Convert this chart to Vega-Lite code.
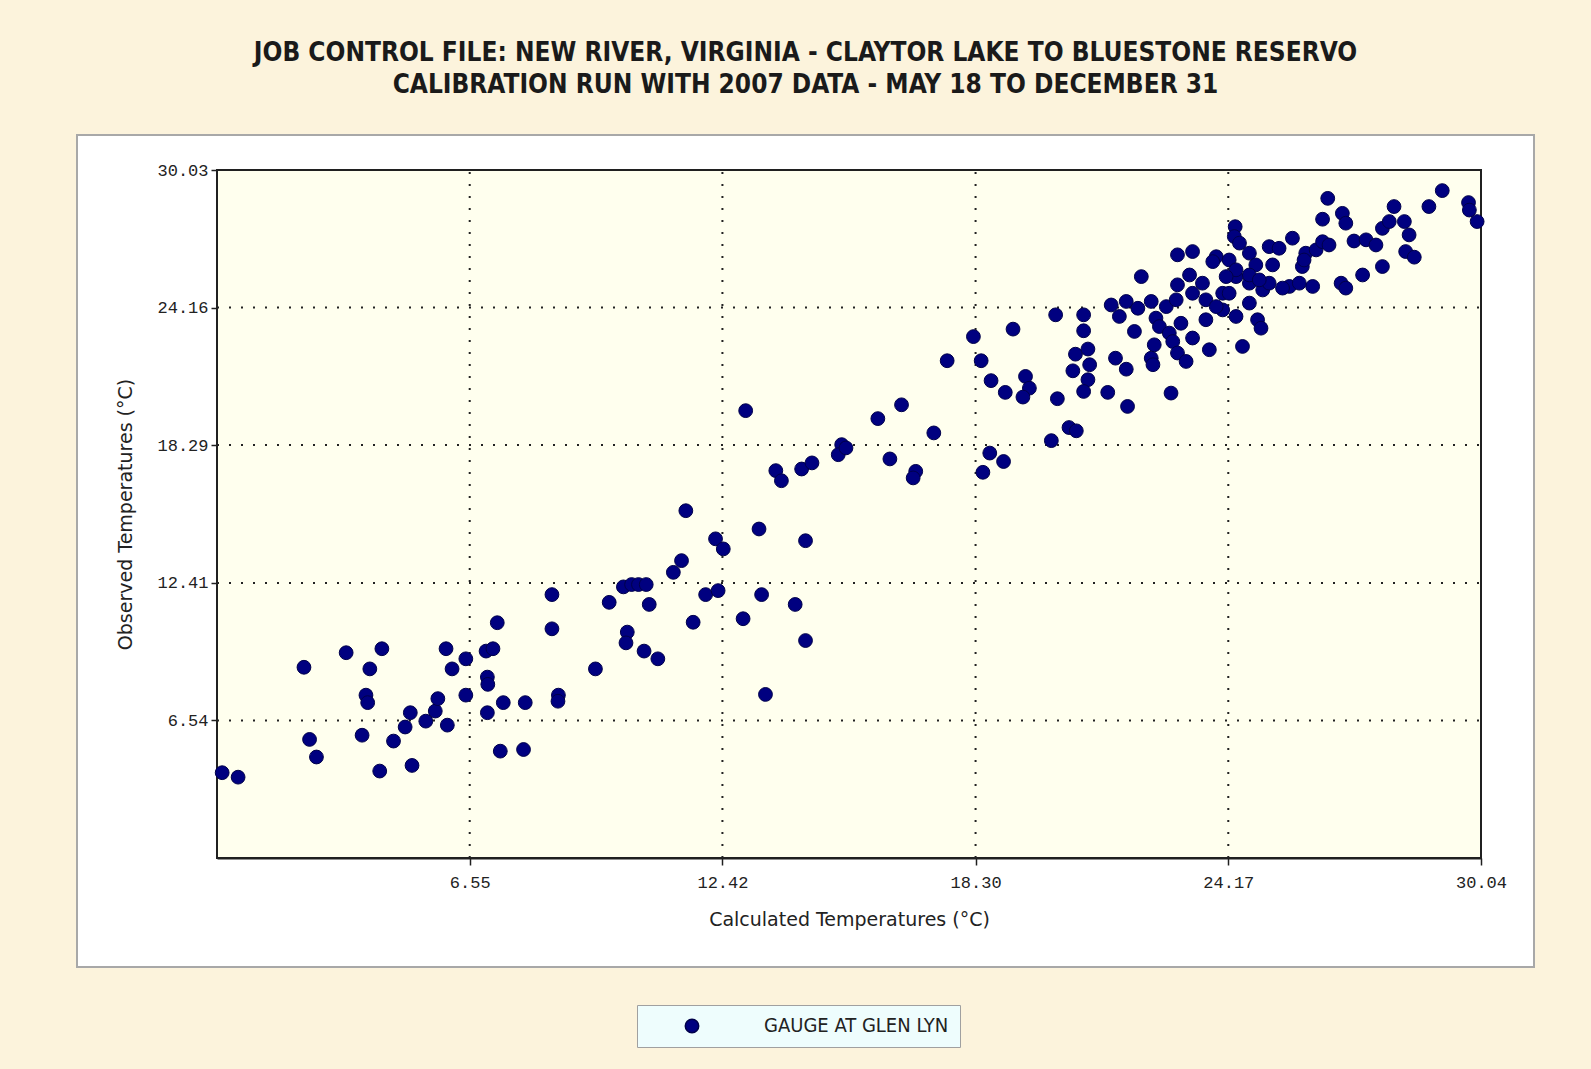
{
  "$schema": "https://vega.github.io/schema/vega-lite/v6.json",
  "width": 1457,
  "height": 832,
  "autosize": {"type": "none"},
  "padding": {"left": 77, "top": 135, "right": 57, "bottom": 102},
  "background": "#FCF3DC",
  "config": {
    "view": {"fill": "#FFFFFF", "stroke": "#A8A8A8", "strokeWidth": 2},
    "font": "DejaVu Sans",
    "axisX": {
      "offset": -109, "grid": false, "zindex": 1,
      "domainColor": "#202020", "domainWidth": 2,
      "tickColor": "#202020", "tickSize": 7, "tickWidth": 1.5,
      "labelFont": "Liberation Mono", "labelFontSize": 17, "labelColor": "#222222",
      "labelPadding": 9, "labelFlush": false, "labelOverlap": false,
      "titleFont": "DejaVu Sans", "titleFontSize": 19, "titleFontWeight": "normal", "titleColor": "#222222",
      "titlePadding": 20
    },
    "axisY": {
      "offset": -140, "grid": false, "zindex": 1,
      "domainColor": "#202020", "domainWidth": 2,
      "tickColor": "#202020", "tickSize": 6, "tickWidth": 1.5,
      "labelFont": "Liberation Mono", "labelFontSize": 17, "labelColor": "#222222",
      "labelPadding": 3, "labelFlush": false, "labelOverlap": false,
      "titleFont": "DejaVu Sans", "titleFontSize": 19, "titleFontWeight": "normal", "titleColor": "#222222",
      "titlePadding": 21
    }
  },
  "title": {
    "text": ["JOB CONTROL FILE: NEW RIVER, VIRGINIA - CLAYTOR LAKE TO BLUESTONE RESERVO", "CALIBRATION RUN WITH 2007 DATA - MAY 18 TO DECEMBER 31"],
    "font": "Liberation Sans Narrow, DejaVu Sans Condensed, DejaVu Sans, sans-serif",
    "fontSize": 26,
    "fontWeight": "bold",
    "color": "#1a1a1a",
    "lineHeight": 32,
    "anchor": "middle",
    "offset": 37
  },
  "datasets": {
    "gx": [{"v": 6.55}, {"v": 12.42}, {"v": 18.30}, {"v": 24.17}],
    "gy": [{"v": 6.54}, {"v": 12.41}, {"v": 18.29}, {"v": 24.16}],
    "obs": [
      {"calculated": 0.80, "observed": 4.31}, {"calculated": 1.17, "observed": 4.12}, {"calculated": 2.70, "observed": 8.81},
      {"calculated": 2.83, "observed": 5.73}, {"calculated": 2.99, "observed": 4.98}, {"calculated": 3.68, "observed": 9.43},
      {"calculated": 4.51, "observed": 9.60}, {"calculated": 4.23, "observed": 8.74}, {"calculated": 4.14, "observed": 7.62},
      {"calculated": 4.18, "observed": 7.30}, {"calculated": 4.05, "observed": 5.91}, {"calculated": 4.46, "observed": 4.38},
      {"calculated": 4.78, "observed": 5.66}, {"calculated": 5.05, "observed": 6.26}, {"calculated": 5.17, "observed": 6.87},
      {"calculated": 5.53, "observed": 6.51}, {"calculated": 5.75, "observed": 6.94}, {"calculated": 5.81, "observed": 7.47},
      {"calculated": 6.03, "observed": 6.34}, {"calculated": 5.21, "observed": 4.62}, {"calculated": 6.00, "observed": 9.60},
      {"calculated": 6.14, "observed": 8.74}, {"calculated": 6.46, "observed": 9.17}, {"calculated": 6.46, "observed": 7.62},
      {"calculated": 6.93, "observed": 9.50}, {"calculated": 7.09, "observed": 9.60}, {"calculated": 7.19, "observed": 10.71},
      {"calculated": 6.96, "observed": 8.39}, {"calculated": 6.97, "observed": 8.08}, {"calculated": 6.96, "observed": 6.87},
      {"calculated": 7.33, "observed": 7.30}, {"calculated": 7.84, "observed": 7.30}, {"calculated": 7.26, "observed": 5.23},
      {"calculated": 7.80, "observed": 5.30}, {"calculated": 8.46, "observed": 11.91}, {"calculated": 8.46, "observed": 10.45},
      {"calculated": 8.61, "observed": 7.62}, {"calculated": 8.60, "observed": 7.36}, {"calculated": 9.47, "observed": 8.74},
      {"calculated": 12.96, "observed": 19.76}, {"calculated": 13.66, "observed": 17.20}, {"calculated": 13.79, "observed": 16.77},
      {"calculated": 14.26, "observed": 17.27}, {"calculated": 14.50, "observed": 17.53}, {"calculated": 11.57, "observed": 15.49},
      {"calculated": 13.27, "observed": 14.71}, {"calculated": 12.26, "observed": 14.29}, {"calculated": 12.44, "observed": 13.86},
      {"calculated": 14.35, "observed": 14.21}, {"calculated": 11.47, "observed": 13.36}, {"calculated": 11.28, "observed": 12.86},
      {"calculated": 10.12, "observed": 12.24}, {"calculated": 10.31, "observed": 12.34}, {"calculated": 10.47, "observed": 12.34},
      {"calculated": 10.65, "observed": 12.34}, {"calculated": 9.79, "observed": 11.58}, {"calculated": 10.72, "observed": 11.49},
      {"calculated": 12.03, "observed": 11.91}, {"calculated": 12.32, "observed": 12.08}, {"calculated": 13.33, "observed": 11.91},
      {"calculated": 14.11, "observed": 11.49}, {"calculated": 12.90, "observed": 10.88}, {"calculated": 11.74, "observed": 10.73},
      {"calculated": 10.21, "observed": 10.31}, {"calculated": 10.18, "observed": 9.85}, {"calculated": 10.60, "observed": 9.50},
      {"calculated": 10.92, "observed": 9.17}, {"calculated": 14.35, "observed": 9.95}, {"calculated": 13.42, "observed": 7.65},
      {"calculated": 20.16, "observed": 23.85}, {"calculated": 20.81, "observed": 23.85}, {"calculated": 20.81, "observed": 23.17},
      {"calculated": 19.17, "observed": 23.24}, {"calculated": 18.25, "observed": 22.92}, {"calculated": 17.64, "observed": 21.89},
      {"calculated": 18.43, "observed": 21.89}, {"calculated": 20.62, "observed": 22.17}, {"calculated": 20.91, "observed": 22.39},
      {"calculated": 20.95, "observed": 21.72}, {"calculated": 20.56, "observed": 21.46}, {"calculated": 21.55, "observed": 22.00},
      {"calculated": 21.80, "observed": 21.53}, {"calculated": 18.66, "observed": 21.04}, {"calculated": 18.99, "observed": 20.54},
      {"calculated": 19.46, "observed": 21.22}, {"calculated": 19.55, "observed": 20.72}, {"calculated": 19.40, "observed": 20.34},
      {"calculated": 20.20, "observed": 20.27}, {"calculated": 20.91, "observed": 21.08}, {"calculated": 20.81, "observed": 20.58},
      {"calculated": 21.37, "observed": 20.54}, {"calculated": 21.83, "observed": 19.94}, {"calculated": 16.58, "observed": 20.01},
      {"calculated": 16.03, "observed": 19.42}, {"calculated": 17.33, "observed": 18.81}, {"calculated": 20.47, "observed": 19.04},
      {"calculated": 20.64, "observed": 18.90}, {"calculated": 20.06, "observed": 18.48}, {"calculated": 15.19, "observed": 18.31},
      {"calculated": 15.11, "observed": 17.88}, {"calculated": 15.29, "observed": 18.17}, {"calculated": 16.31, "observed": 17.70},
      {"calculated": 16.91, "observed": 17.17}, {"calculated": 16.85, "observed": 16.89}, {"calculated": 18.63, "observed": 17.95},
      {"calculated": 18.95, "observed": 17.59}, {"calculated": 18.47, "observed": 17.13}, {"calculated": 22.15, "observed": 25.48},
      {"calculated": 21.45, "observed": 24.27}, {"calculated": 21.80, "observed": 24.42}, {"calculated": 22.07, "observed": 24.13},
      {"calculated": 22.38, "observed": 24.42}, {"calculated": 22.73, "observed": 24.20}, {"calculated": 22.99, "observed": 25.13},
      {"calculated": 23.27, "observed": 25.55}, {"calculated": 23.57, "observed": 25.20}, {"calculated": 23.34, "observed": 24.77},
      {"calculated": 22.96, "observed": 24.49}, {"calculated": 23.65, "observed": 24.49}, {"calculated": 24.04, "observed": 24.77},
      {"calculated": 24.35, "observed": 25.48}, {"calculated": 24.66, "observed": 25.20}, {"calculated": 24.97, "observed": 24.91},
      {"calculated": 25.12, "observed": 25.20}, {"calculated": 25.59, "observed": 25.06}, {"calculated": 24.04, "observed": 24.06},
      {"calculated": 24.35, "observed": 23.78}, {"calculated": 23.65, "observed": 23.64}, {"calculated": 23.89, "observed": 24.20},
      {"calculated": 24.66, "observed": 24.35}, {"calculated": 24.85, "observed": 23.64}, {"calculated": 24.93, "observed": 23.28},
      {"calculated": 21.64, "observed": 23.78}, {"calculated": 21.99, "observed": 23.14}, {"calculated": 22.49, "observed": 23.71},
      {"calculated": 22.57, "observed": 23.35}, {"calculated": 22.80, "observed": 23.07}, {"calculated": 23.07, "observed": 23.49},
      {"calculated": 23.34, "observed": 22.86}, {"calculated": 22.45, "observed": 22.57}, {"calculated": 22.88, "observed": 22.71},
      {"calculated": 22.99, "observed": 22.22}, {"calculated": 23.19, "observed": 21.86}, {"calculated": 22.38, "observed": 22.00},
      {"calculated": 22.42, "observed": 21.72}, {"calculated": 23.73, "observed": 22.36}, {"calculated": 24.50, "observed": 22.50},
      {"calculated": 22.84, "observed": 20.51}, {"calculated": 24.33, "observed": 27.61}, {"calculated": 24.31, "observed": 27.19},
      {"calculated": 24.43, "observed": 26.91}, {"calculated": 22.99, "observed": 26.41}, {"calculated": 23.34, "observed": 26.55},
      {"calculated": 23.89, "observed": 26.33}, {"calculated": 23.81, "observed": 26.12}, {"calculated": 24.19, "observed": 26.19},
      {"calculated": 24.66, "observed": 26.48}, {"calculated": 25.12, "observed": 26.76}, {"calculated": 25.35, "observed": 26.69},
      {"calculated": 25.66, "observed": 27.12}, {"calculated": 25.97, "observed": 26.48}, {"calculated": 26.21, "observed": 26.62},
      {"calculated": 25.89, "observed": 25.91}, {"calculated": 25.20, "observed": 25.98}, {"calculated": 24.81, "observed": 25.98},
      {"calculated": 24.35, "observed": 25.77}, {"calculated": 24.66, "observed": 25.55}, {"calculated": 24.12, "observed": 25.48},
      {"calculated": 24.19, "observed": 24.77}, {"calculated": 24.89, "observed": 25.34}, {"calculated": 25.43, "observed": 24.99},
      {"calculated": 26.13, "observed": 25.06}, {"calculated": 26.48, "observed": 28.82}, {"calculated": 26.36, "observed": 27.93},
      {"calculated": 26.82, "observed": 28.18}, {"calculated": 26.90, "observed": 27.76}, {"calculated": 26.36, "observed": 26.97},
      {"calculated": 26.51, "observed": 26.83}, {"calculated": 25.93, "observed": 26.19}, {"calculated": 25.82, "observed": 25.20},
      {"calculated": 26.79, "observed": 25.20}, {"calculated": 26.90, "observed": 24.99}, {"calculated": 27.29, "observed": 25.55},
      {"calculated": 27.75, "observed": 25.91}, {"calculated": 27.09, "observed": 27.00}, {"calculated": 27.37, "observed": 27.05},
      {"calculated": 27.60, "observed": 26.83}, {"calculated": 27.75, "observed": 27.54}, {"calculated": 28.02, "observed": 28.47},
      {"calculated": 27.91, "observed": 27.83}, {"calculated": 28.26, "observed": 27.83}, {"calculated": 28.37, "observed": 27.26},
      {"calculated": 28.29, "observed": 26.55}, {"calculated": 28.49, "observed": 26.31}, {"calculated": 28.83, "observed": 28.47},
      {"calculated": 29.14, "observed": 29.15}, {"calculated": 29.75, "observed": 28.64}, {"calculated": 29.77, "observed": 28.32},
      {"calculated": 29.95, "observed": 27.83}
    ]
  },
  "layer": [
    {
      "data": {"name": "obs"},
      "mark": {"type": "rect", "fill": "#FFFFEE", "stroke": "#202020", "strokeWidth": 2},
      "encoding": {
        "x": {"datum": 0.68, "type": "quantitative", "scale": {"domain": [0.68, 30.04], "range": [140, 1404], "nice": false, "zero": false},
              "axis": {"title": "Calculated Temperatures (°C)", "values": [6.55, 12.42, 18.30, 24.17, 30.04], "format": ".2f"}},
        "x2": {"datum": 30.04},
        "y": {"datum": 0.67, "type": "quantitative", "scale": {"domain": [0.67, 30.03], "range": [723, 35], "nice": false, "zero": false},
              "axis": {"title": "Observed Temperatures (°C)", "values": [6.54, 12.41, 18.29, 24.16, 30.03], "format": ".2f"}},
        "y2": {"datum": 30.03}
      }
    },
    {
      "data": {"name": "gx"},
      "mark": {"type": "rule", "color": "#222222", "strokeWidth": 2, "strokeDash": [2, 10]},
      "encoding": {
        "x": {"field": "v", "type": "quantitative", "scale": {"domain": [0.68, 30.04], "range": [140, 1404], "nice": false, "zero": false},
              "axis": {"title": "Calculated Temperatures (°C)", "values": [6.55, 12.42, 18.30, 24.17, 30.04], "format": ".2f"}},
        "y": {"datum": 0.67, "type": "quantitative", "scale": {"domain": [0.67, 30.03], "range": [723, 35], "nice": false, "zero": false},
              "axis": {"title": "Observed Temperatures (°C)", "values": [6.54, 12.41, 18.29, 24.16, 30.03], "format": ".2f"}},
        "y2": {"datum": 30.03}
      }
    },
    {
      "data": {"name": "gy"},
      "mark": {"type": "rule", "color": "#222222", "strokeWidth": 2, "strokeDash": [2, 10]},
      "encoding": {
        "y": {"field": "v", "type": "quantitative", "scale": {"domain": [0.67, 30.03], "range": [723, 35], "nice": false, "zero": false},
              "axis": {"title": "Observed Temperatures (°C)", "values": [6.54, 12.41, 18.29, 24.16, 30.03], "format": ".2f"}},
        "x": {"datum": 0.68, "type": "quantitative", "scale": {"domain": [0.68, 30.04], "range": [140, 1404], "nice": false, "zero": false},
              "axis": {"title": "Calculated Temperatures (°C)", "values": [6.55, 12.42, 18.30, 24.17, 30.04], "format": ".2f"}},
        "x2": {"datum": 30.04}
      }
    },
    {
      "data": {"name": "obs"},
      "mark": {"type": "circle", "size": 190, "opacity": 1, "stroke": "#00004A", "strokeWidth": 1},
      "encoding": {
        "x": {"field": "calculated", "type": "quantitative", "scale": {"domain": [0.68, 30.04], "range": [140, 1404], "nice": false, "zero": false},
              "axis": {"title": "Calculated Temperatures (°C)", "values": [6.55, 12.42, 18.30, 24.17, 30.04], "format": ".2f"}},
        "y": {"field": "observed", "type": "quantitative", "scale": {"domain": [0.67, 30.03], "range": [723, 35], "nice": false, "zero": false},
              "axis": {"title": "Observed Temperatures (°C)", "values": [6.54, 12.41, 18.29, 24.16, 30.03], "format": ".2f"}},
        "color": {
          "datum": "GAUGE AT GLEN LYN",
          "scale": {"range": ["#000080"]},
          "legend": {
            "title": null, "orient": "none", "legendX": 560, "legendY": 870,
            "fillColor": "#EEFDFD", "strokeColor": "#A0A0A0", "padding": 11,
            "symbolType": "circle", "symbolSize": 180, "symbolFillColor": "#000080", "symbolStrokeColor": "#00004A",
            "symbolOffset": 34, "labelOffset": 62,
            "labelFont": "Liberation Sans Narrow, DejaVu Sans Condensed, DejaVu Sans, sans-serif",
            "labelFontSize": 20, "labelColor": "#222222", "labelLimit": 400
          }
        }
      }
    }
  ]
}
